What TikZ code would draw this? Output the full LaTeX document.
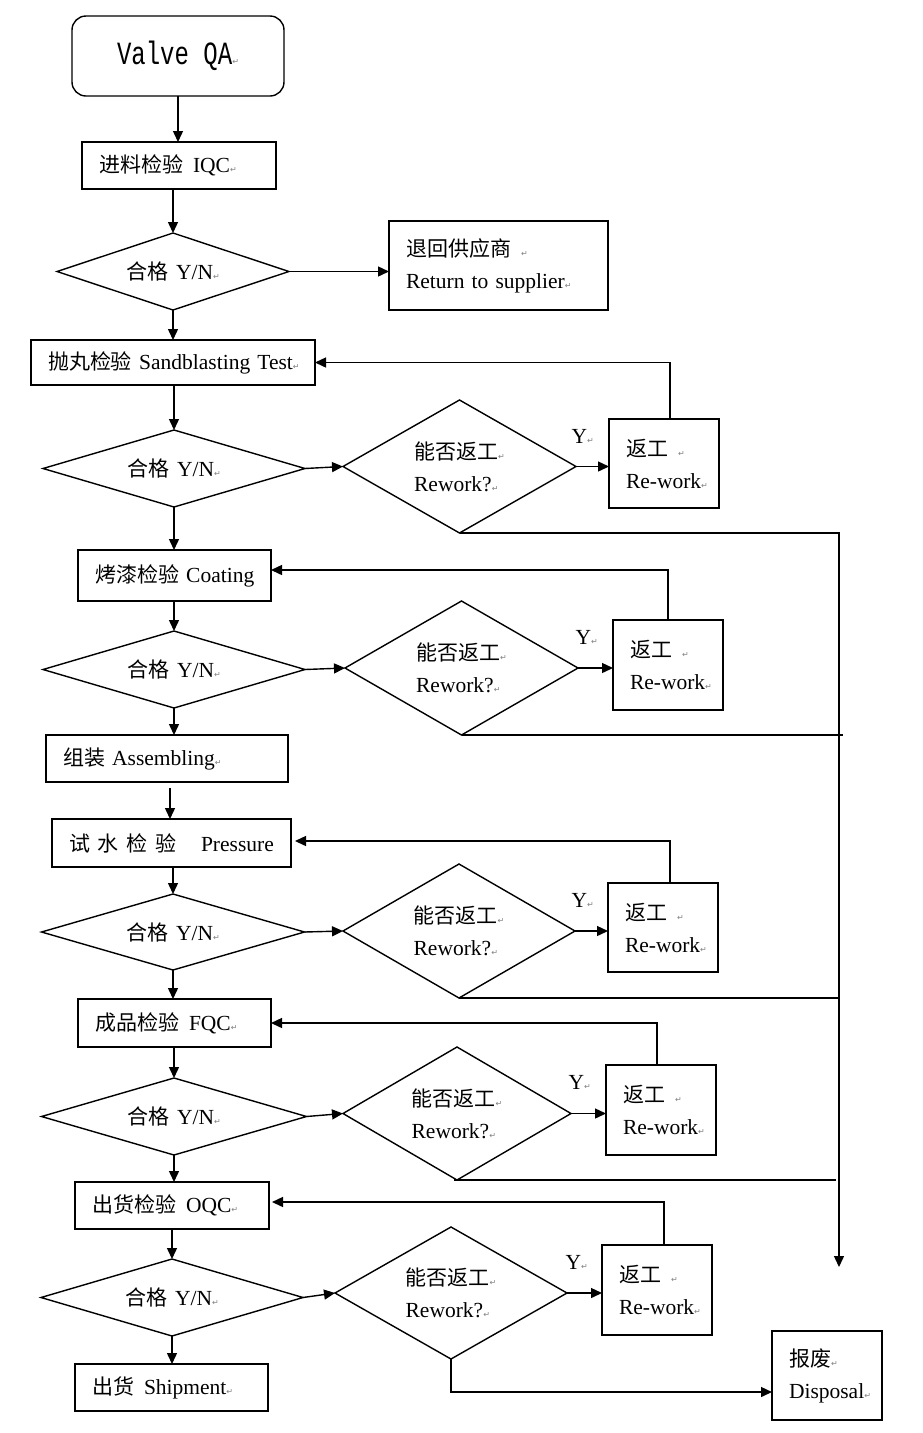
\documentclass[tikz,border=0pt]{standalone}
\usepackage{graphicx}
\usepackage{fontspec}
\setmainfont{Liberation Serif}
\newfontfamily\cjkf{Noto Sans CJK SC}
\newfontfamily\monof{Liberation Mono}
\newfontfamily\symf{DejaVu Sans}
\usetikzlibrary{arrows.meta,shapes.geometric}
\newcommand\zh[1]{{\cjkf\fontsize{21}{32}\selectfont #1}}
\newcommand\rmk{{\symf\fontsize{8}{8}\selectfont\color{gray}↵}}
\begin{document}
\begin{tikzpicture}[x=1pt,y=-1pt, line width=1.4pt, font=\fontsize{21.5}{32}\selectfont,
  box/.style 2 args={draw, rectangle, text width=#1, minimum height=#2, inner xsep=17pt, inner ysep=0pt, outer sep=0pt, align=left},
  dia/.style 2 args={draw, diamond, minimum width=#1, minimum height=#2, inner sep=0pt, outer sep=0pt, align=left},
  okdia/.style={aspect=3.4},
  rwdia/.style={aspect=1.75},
  arr/.style={-{Triangle[length=11pt,width=10pt]}},
  lab/.style={anchor=west, inner sep=0pt}]
\fill[white] (0,0) rectangle (922,1433);
\useasboundingbox (0,0) rectangle (922,1433);

\node[draw, rounded corners=14pt, minimum width=212pt, minimum height=80pt, inner sep=0pt, outer sep=0pt] (start) at (178,56) {\scalebox{1}[1.35]{\monof\fontsize{24}{24}\selectfont Valve QA}\rmk};
\node[box={160pt}{47pt}] (iqc) at (179,165.5) {\mbox{\zh{进料检验}\hspace{10pt}IQC\rmk}};
\node[dia={232pt}{77pt}, okdia] (d1) at (173,271.5) {\mbox{\zh{合格}\hspace{8pt}Y/N\rmk}};
\node[box={185pt}{89pt}] (ret) at (498.5,265.5) {\mbox{\zh{退回供应商}\hspace{10pt}\rmk}\\\mbox{Return to supplier\rmk}};
\node[box={250pt}{45pt}] (sb) at (173,362.5) {\mbox{\zh{抛丸检验} Sandblasting Test\rmk}};

\node[dia={262pt}{77pt}, okdia] (d2) at (174,468.5) {\mbox{\zh{合格}\hspace{8pt}Y/N\rmk}};
\node[dia={233pt}{133pt}, rwdia] (r2) at (459.5,466.5) {\mbox{\zh{能否返工}\rmk}\\\mbox{Rework?\rmk}};
\node[box={76pt}{89pt}] (w2) at (664,463.5) {\mbox{\zh{返工}\hspace{10pt}\rmk}\\\mbox{Re-work\rmk}};
\node[box={159pt}{51pt}] (ct) at (174.5,575.5) {\mbox{\zh{烤漆检验} Coating}};

\node[dia={262pt}{77pt}, okdia] (d3) at (174,669.5) {\mbox{\zh{合格}\hspace{8pt}Y/N\rmk}};
\node[dia={233pt}{134pt}, rwdia] (r3) at (461.5,668) {\mbox{\zh{能否返工}\rmk}\\\mbox{Rework?\rmk}};
\node[box={76pt}{90pt}] (w3) at (668,665) {\mbox{\zh{返工}\hspace{10pt}\rmk}\\\mbox{Re-work\rmk}};
\node[box={208pt}{47pt}] (asm) at (167,758.5) {\mbox{\zh{组装} Assembling\rmk}};
\node[box={205pt}{48pt}] (pr) at (171.5,843) {\mbox{\zh{试}\hspace{8pt}\zh{水}\hspace{8pt}\zh{检}\hspace{8pt}\zh{验}\hspace{24pt}Pressure}};

\node[dia={263pt}{76pt}, okdia] (d4) at (173,932) {\mbox{\zh{合格}\hspace{8pt}Y/N\rmk}};
\node[dia={232pt}{134pt}, rwdia] (r4) at (459,931) {\mbox{\zh{能否返工}\rmk}\\\mbox{Rework?\rmk}};
\node[box={76pt}{89pt}] (w4) at (663,927.5) {\mbox{\zh{返工}\hspace{10pt}\rmk}\\\mbox{Re-work\rmk}};
\node[box={159pt}{48pt}] (fqc) at (174.5,1023) {\mbox{\zh{成品检验}\hspace{10pt}FQC\rmk}};

\node[dia={265pt}{77pt}, okdia] (d5) at (174,1116.5) {\mbox{\zh{合格}\hspace{8pt}Y/N\rmk}};
\node[dia={228pt}{133pt}, rwdia] (r5) at (457,1113.5) {\mbox{\zh{能否返工}\rmk}\\\mbox{Rework?\rmk}};
\node[box={76pt}{90pt}] (w5) at (661,1110) {\mbox{\zh{返工}\hspace{10pt}\rmk}\\\mbox{Re-work\rmk}};
\node[box={160pt}{47pt}] (oqc) at (172,1205.5) {\mbox{\zh{出货检验}\hspace{10pt}OQC\rmk}};

\node[dia={262pt}{77pt}, okdia] (d6) at (172,1297.5) {\mbox{\zh{合格}\hspace{8pt}Y/N\rmk}};
\node[dia={232pt}{132pt}, rwdia] (r6) at (451,1293) {\mbox{\zh{能否返工}\rmk}\\\mbox{Rework?\rmk}};
\node[box={76pt}{90pt}] (w6) at (657,1290) {\mbox{\zh{返工}\hspace{10pt}\rmk}\\\mbox{Re-work\rmk}};
\node[box={76pt}{89pt}] (disp) at (827,1375.5) {\mbox{\zh{报废}\rmk}\\\mbox{Disposal\rmk}};
\node[box={159pt}{47pt}] (ship) at (171.5,1387.5) {\mbox{\zh{出货}\hspace{10pt}Shipment\rmk}};

\node[lab] (y2) at (571,436) {Y\rmk};
\node[lab] (y3) at (575,637) {Y\rmk};
\node[lab] (y4) at (571,900) {Y\rmk};
\node[lab] (y5) at (568,1082) {Y\rmk};
\node[lab] (y6) at (565,1262) {Y\rmk};

\coordinate (dtop) at (839,533);
\coordinate (dend) at (839,1267);
\coordinate (xr) at (843,0);

\draw[arr] (start.south) -- (start.south |- iqc.north);
\draw[arr] (d1.north |- iqc.south) -- (d1.north);
\draw[arr] (d1.east) -- (d1.east -| ret.west);
\draw[arr] (d1.south) -- (d1.south |- sb.north);

\draw[arr] (d2.north |- sb.south) -- (d2.north);
\draw[arr] (d2.east) -- (r2.west);
\draw[arr] (r2.east) -- (r2.east -| w2.west);
\draw[arr] ([xshift=6pt]w2.north) |- (sb.east);
\draw[arr] (r2.south) -- (dtop) -- (dend);
\draw[arr] (d2.south) -- (d2.south |- ct.north);

\draw[arr] (d3.north |- ct.south) -- (d3.north);
\draw[arr] (d3.east) -- (r3.west);
\draw[arr] (r3.east) -- (r3.east -| w3.west);
\draw[arr] (w3.north) |- ([yshift=5.5pt]ct.east);
\draw (r3.south) -- (r3.south -| xr);
\draw[arr] (d3.south) -- (d3.south |- asm.north);
\draw[arr, shorten <=6pt] ([xshift=3pt]asm.south) -- ([xshift=3pt]asm.south |- pr.north);

\draw[arr] (d4.north |- pr.south) -- (d4.north);
\draw[arr] (d4.east) -- (r4.west);
\draw[arr] (r4.east) -- (r4.east -| w4.west);
\draw[arr, shorten >=4pt] ([xshift=7pt]w4.north) |- ([yshift=2pt]pr.east);
\draw (r4.south) -- (r4.south -| dtop);
\draw[arr] (d4.south) -- (d4.south |- fqc.north);

\draw[arr] (d5.north |- fqc.south) -- (d5.north);
\draw[arr] (d5.east) -- (r5.west);
\draw[arr] (r5.east) -- (r5.east -| w5.west);
\draw[arr] ([xshift=-4pt]w5.north) |- (fqc.east);
\draw ([xshift=-3pt]r5.south) -- ([xshift=-3pt]r5.south -| dtop);
\draw[arr] (d5.south) -- (d5.south |- oqc.north);

\draw[arr] (d6.north |- oqc.south) -- (d6.north);
\draw[arr] (d6.east) -- (r6.west);
\draw[arr] (r6.east) -- (r6.east -| w6.west);
\draw[arr, shorten >=3pt] ([xshift=7pt]w6.north) |- ([yshift=3.5pt]oqc.east);
\draw[arr] (r6.south) |- ([yshift=-16.5pt]disp.west);
\draw[arr] (d6.south) -- (d6.south |- ship.north);
\end{tikzpicture}
\end{document}
